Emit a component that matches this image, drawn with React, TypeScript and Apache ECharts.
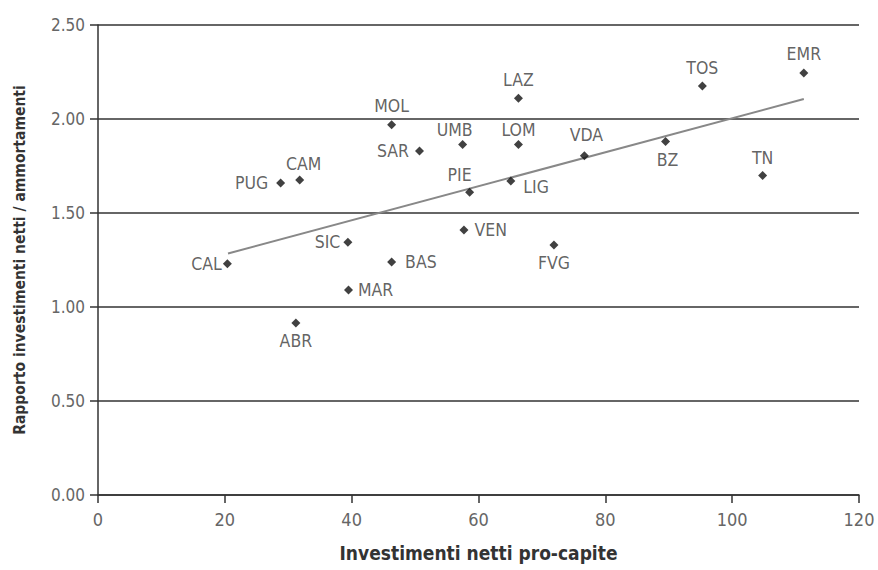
import React, { useEffect, useRef } from "react";
import * as echarts from "echarts";

const regions = ["MOL", "SAR", "CAM", "PUG", "SIC", "CAL", "BAS", "MAR", "ABR", "LAZ", "TOS", "EMR", "UMB", "LOM", "VDA", "BZ", "TN", "PIE", "LIG", "VEN", "FVG"];
const investPerCapita = [46.3, 50.7, 31.8, 28.8, 39.4, 20.4, 46.3, 39.5, 31.2, 66.3, 95.3, 111.3, 57.5, 66.3, 76.7, 89.5, 104.8, 58.6, 65.1, 57.7, 71.9];
const ratio = [1.97, 1.83, 1.675, 1.66, 1.345, 1.23, 1.24, 1.09, 0.915, 2.11, 2.175, 2.245, 1.865, 1.865, 1.805, 1.88, 1.70, 1.61, 1.67, 1.41, 1.33];
const trendX = [20.5, 111.3];
const trendY = [1.285, 2.106];
const xTicks = [0, 20, 40, 60, 80, 100, 120];
const yTicks = [0, 0.5, 1, 1.5, 2, 2.5];

const labelPlacement: Record<string, string> = {
  MOL: "top", SAR: "left", CAM: "top", PUG: "left", SIC: "left", CAL: "left", BAS: "right", MAR: "right",
  ABR: "bottom", LAZ: "top", TOS: "top", EMR: "top", UMB: "top", LOM: "top", VDA: "top", BZ: "bottom",
  TN: "top", PIE: "top", LIG: "right", VEN: "right", FVG: "bottom",
};
const labelShift: Record<string, number[]> = {
  SAR: [-1, 0], PUG: [-3, 0], SIC: [2, 0], CAL: [4, 0], BAS: [4, 0], VEN: [1, 0], LIG: [3, 6],
  UMB: [-8, 4], LOM: [0, 4], VDA: [2, -2], PIE: [-10, 1], CAM: [4, 2], TN: [0, 1], BZ: [2, 0],
};

const FONT = "'DejaVu Sans Condensed', 'Liberation Sans Narrow', 'Roboto Condensed', sans-serif";

export default function App() {
  const ref = useRef<HTMLDivElement>(null);
  useEffect(() => {
    document.body.style.margin = "0";
    const chart = echarts.init(ref.current!, null, { renderer: "svg" });
    const points = regions.map((name, i) => ({
      name,
      value: [investPerCapita[i], ratio[i]],
      label: {
        position: labelPlacement[name] as any,
        offset: labelShift[name] || [0, 0],
      },
    }));
    chart.setOption({
      animation: false,
      backgroundColor: "#ffffff",
      grid: { left: 98, right: 19, top: 25, bottom: 75, containLabel: false, outerBoundsMode: "none" },
      xAxis: {
        type: "value",
        min: xTicks[0],
        max: xTicks[xTicks.length - 1],
        interval: 20,
        name: "Investimenti netti pro-capite",
        nameLocation: "middle",
        nameGap: 48,
        nameTextStyle: { fontFamily: FONT, fontSize: 19, fontWeight: "bold", color: "#333" },
        axisLine: { show: true, lineStyle: { color: "#333", width: 1.5 } },
        axisTick: { show: true, length: 8, lineStyle: { color: "#333", width: 1.5 } },
        axisLabel: { fontFamily: FONT, fontSize: 18, color: "#666", margin: 15 },
        splitLine: { show: false },
      },
      yAxis: {
        type: "value",
        min: yTicks[0],
        max: yTicks[yTicks.length - 1],
        interval: 0.5,
        name: "Rapporto investimenti netti / ammortamenti",
        nameLocation: "middle",
        nameGap: 70,
        nameTextStyle: { fontFamily: FONT, fontSize: 15.5, fontWeight: "bold", color: "#333" },
        axisLine: { show: true, lineStyle: { color: "#333", width: 1.5 } },
        axisTick: { show: true, length: 8, lineStyle: { color: "#333", width: 1.5 } },
        axisLabel: {
          fontFamily: FONT, fontSize: 17, color: "#666", margin: 13,
          formatter: (v: number) => v.toFixed(2),
        },
        splitLine: { show: true, lineStyle: { color: "#333", width: 1.5 } },
      },
      series: [
        {
          type: "line",
          data: trendX.map((x, i) => [x, trendY[i]]),
          symbol: "none",
          lineStyle: { color: "#888", width: 2 },
          silent: true,
          z: 2,
        },
        {
          type: "scatter",
          data: points,
          symbol: "diamond",
          symbolSize: 9,
          itemStyle: { color: "#111" },
          label: {
            show: true,
            formatter: "{b}",
            fontFamily: FONT,
            fontSize: 17.5,
            color: "#3a3a3a",
            distance: 5,
          },
          z: 3,
        },
      ],
    });
    return () => chart.dispose();
  }, []);
  return <div ref={ref} style={{ width: 878, height: 570 }} />;
}
